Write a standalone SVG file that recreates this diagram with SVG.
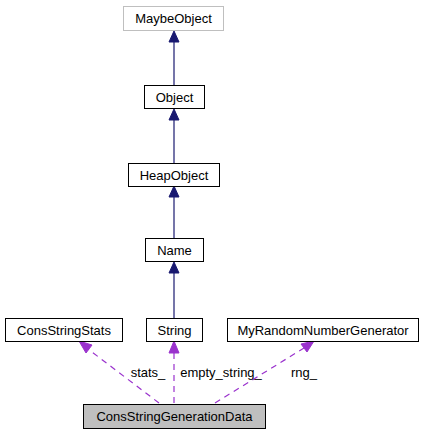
<svg xmlns="http://www.w3.org/2000/svg" width="428" height="435" viewBox="0 0 428 435">
<style>
text{font-family:"Liberation Sans",Arial,sans-serif;font-size:13px;fill:#000;text-anchor:middle}
.box{fill:#fff;stroke:#000;stroke-width:1}
.gray{fill:#fff;stroke:#bfbfbf;stroke-width:1}
.main{fill:#bfbfbf;stroke:#000;stroke-width:1}
.inh{stroke:#191970;stroke-width:1.2;fill:none}
.inhh{fill:#191970;stroke:#191970}
.use{stroke:#9a32cd;stroke-width:1.2;fill:none;stroke-dasharray:6,5}
.useh{fill:#9a32cd;stroke:#9a32cd}
</style>
<rect width="428" height="435" fill="#fff"/>
<g id="connectors">
<line class="inh" x1="174" y1="85" x2="174" y2="41"/>
<polygon class="inhh" points="174,31 179,42 169,42"/>
<line class="inh" x1="174" y1="163" x2="174" y2="119"/>
<polygon class="inhh" points="174,109 179,120 169,120"/>
<line class="inh" x1="174" y1="238" x2="174" y2="196"/>
<polygon class="inhh" points="174,186 179,197 169,197"/>
<line class="inh" x1="174" y1="318" x2="174" y2="272"/>
<polygon class="inhh" points="174,262 179,273 169,273"/>
<line class="use" x1="159" y1="403" x2="88" y2="349"/>
<polygon class="useh" points="79,341 92,345 86,353"/>
<line class="use" x1="174" y1="403" x2="174" y2="352"/>
<polygon class="useh" points="174,341 179,353 169,353"/>
<line class="use" x1="215" y1="403" x2="304" y2="348"/>
<polygon class="useh" points="314,341 307,352 301,344"/>
<text x="148" y="377">stats_</text>
<text x="221" y="377">empty_string_</text>
<text x="304" y="377">rng_</text>
</g>
<g id="MaybeObject"><rect class="gray" x="123.5" y="6.5" width="100" height="24"/><text x="173.5" y="23">MaybeObject</text></g>
<g id="Object"><rect class="box" x="144.5" y="85.5" width="60" height="23"/><text x="174.5" y="102">Object</text></g>
<g id="HeapObject"><rect class="box" x="128.5" y="163.5" width="91" height="23"/><text x="174" y="180">HeapObject</text></g>
<g id="Name"><rect class="box" x="145.5" y="238.5" width="58" height="23"/><text x="174.5" y="255">Name</text></g>
<g id="ConsStringStats"><rect class="box" x="5.5" y="318.5" width="117" height="23"/><text x="64" y="335">ConsStringStats</text></g>
<g id="String"><rect class="box" x="146.5" y="318.5" width="56" height="23"/><text x="174.5" y="335">String</text></g>
<g id="MyRandomNumberGenerator"><rect class="box" x="227.5" y="318.5" width="191" height="23"/><text x="323" y="335">MyRandomNumberGenerator</text></g>
<g id="ConsStringGenerationData"><rect class="main" x="83.5" y="404.5" width="182" height="24"/><text x="174.5" y="421">ConsStringGenerationData</text></g>
</svg>
